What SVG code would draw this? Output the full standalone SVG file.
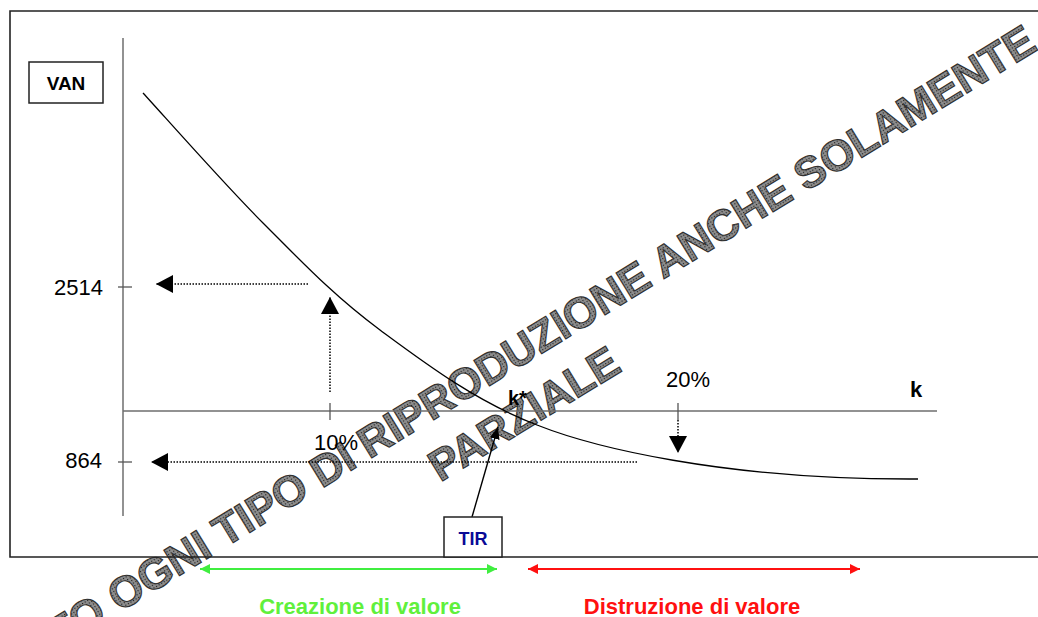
<svg xmlns="http://www.w3.org/2000/svg" width="1038" height="617" viewBox="0 0 1038 617">
<defs>
<style>
.wm{font-family:"Liberation Sans",Arial,sans-serif;font-weight:bold;font-size:43.6px;fill:url(#dots);stroke:#303030;stroke-width:1.1}
.lbl{font-family:"Liberation Sans",Arial,sans-serif;font-size:22px;fill:#000}
.b{font-weight:bold}
.dot{stroke:#000;stroke-width:1.5;stroke-dasharray:1.5 1.5;fill:none}
.axis{stroke:#6e6e6e;stroke-width:1.5;fill:none}
.tick{stroke:#555;stroke-width:1.3;fill:none}
.box{fill:#fff;stroke:#222;stroke-width:1.5}
.curve{stroke:#000;stroke-width:1.3;fill:none}
</style>
<pattern id="dots" width="3" height="3" patternUnits="userSpaceOnUse">
<rect width="3" height="3" fill="#8e8e8e"/>
<rect width="1.2" height="1.2" fill="#1e1e1e"/>
</pattern>
<marker id="big" markerUnits="userSpaceOnUse" markerWidth="18" markerHeight="18" viewBox="0 0 17 18" refX="17" refY="9" orient="auto">
<path d="M0,0 L17,9 L0,18 z" fill="#000"/>
</marker>
<marker id="small" markerUnits="userSpaceOnUse" markerWidth="12" markerHeight="10" viewBox="0 0 12 10" refX="12" refY="5" orient="auto">
<path d="M0,0 L12,5 L0,10 z" fill="#000"/>
</marker>
<marker id="grn" markerUnits="userSpaceOnUse" markerWidth="10" markerHeight="10" viewBox="0 0 10 10" refX="10" refY="5" orient="auto-start-reverse">
<path d="M0,0 L10,5 L0,10 z" fill="#40ee40"/>
</marker>
<marker id="red" markerUnits="userSpaceOnUse" markerWidth="10" markerHeight="10" viewBox="0 0 10 10" refX="10" refY="5" orient="auto-start-reverse">
<path d="M0,0 L10,5 L0,10 z" fill="#ff1010"/>
</marker>
</defs>
<rect width="1038" height="617" fill="#fff"/>

<g id="watermark">
<text class="wm" x="496.5" y="381.5" text-anchor="middle" transform="rotate(-31.5 496.5 381.5)">VIETATO OGNI TIPO DI RIPRODUZIONE ANCHE SOLAMENTE</text>
<text class="wm" x="531.7" y="426.3" text-anchor="middle" transform="rotate(-31.5 531.7 426.3)">PARZIALE</text>
</g>

<g id="frame">
<path d="M1040,11 H10 V557 H1040" fill="none" stroke="#222" stroke-width="1.6"/>
</g>

<g id="axes">
<line class="axis" x1="123" y1="38" x2="123" y2="516"/>
<line class="axis" x1="123" y1="411" x2="937" y2="411"/>
<line class="tick" x1="118" y1="287" x2="132" y2="287"/>
<line class="tick" x1="118" y1="462" x2="132" y2="462"/>
<line class="tick" x1="330" y1="403" x2="330" y2="420"/>
<line class="tick" x1="678" y1="403" x2="678" y2="420"/>
</g>

<g id="curve">
<path class="curve" d="M143,93 C163,114.7 223.5,183.5 263,223 C302.5,262.5 334.3,296.3 380,330 C425.7,363.7 475.3,401.2 537,425 C590,446 720,480 918,479"/>
</g>

<g id="connectors">
<line class="dot" x1="308" y1="284" x2="156" y2="284" marker-end="url(#big)"/>
<line class="dot" x1="330" y1="392" x2="330" y2="297" marker-end="url(#big)"/>
<line class="dot" x1="637" y1="462" x2="151" y2="462" marker-end="url(#big)"/>
<line class="dot" x1="678" y1="420" x2="678" y2="453" marker-end="url(#big)"/>
<line x1="472" y1="517" x2="498" y2="427" stroke="#000" stroke-width="1.4" marker-end="url(#small)"/>
<line x1="200" y1="569" x2="497" y2="569" stroke="#40ee40" stroke-width="2" marker-start="url(#grn)" marker-end="url(#grn)"/>
<line x1="528" y1="569" x2="860" y2="569" stroke="#ff1010" stroke-width="2" marker-start="url(#red)" marker-end="url(#red)"/>
</g>

<g id="van">
<rect class="box" x="29" y="62" width="74" height="41"/>
<text class="lbl b" x="66" y="90" text-anchor="middle" style="font-size:19px">VAN</text>
</g>

<g id="tir">
<rect class="box" x="444" y="517" width="58" height="40"/>
<text class="lbl b" x="473" y="545" text-anchor="middle" style="font-size:18px;fill:#0a0a96">TIR</text>
</g>

<g id="labels">
<text class="lbl" x="103" y="295" text-anchor="end">2514</text>
<text class="lbl" x="102" y="468" text-anchor="end">864</text>
<text class="lbl" x="336" y="450" text-anchor="middle">10%</text>
<text class="lbl" x="688" y="387" text-anchor="middle">20%</text>
<text class="lbl b" x="508" y="405" style="font-size:20px">k*</text>
<text class="lbl b" x="910" y="397" style="font-size:22px">k</text>
<text class="lbl b" x="360" y="614" text-anchor="middle" style="fill:#60f03c">Creazione di valore</text>
<text class="lbl b" x="692" y="614" text-anchor="middle" style="fill:#ff1010">Distruzione di valore</text>
</g>
</svg>
